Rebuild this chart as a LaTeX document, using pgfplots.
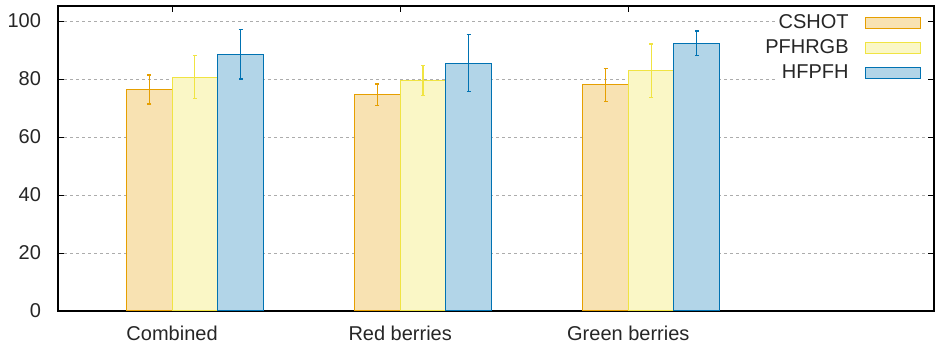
\documentclass[border=0pt]{standalone}
\usepackage{fontspec}
\setmainfont{Liberation Sans}
\usepackage{pgfplots}
\pgfplotsset{compat=1.18}
\definecolor{cA}{HTML}{E69F00}
\definecolor{cB}{HTML}{F0E442}
\definecolor{cC}{HTML}{0072B2}
\begin{document}
\begin{tikzpicture}
\useasboundingbox (-29pt,-18pt) rectangle (439pt,155.5pt);
\begin{axis}[
 scale only axis, width=438pt, height=152.5pt,
 xmin=-2.5, xmax=16.7, ymin=0, ymax=105.2,
 ybar, bar width=1, bar shift=0pt,
 xtick={0,5,10}, xticklabels={Combined,Red berries,Green berries},
 ytick={0,20,...,100},
 tick align=inside, major tick length=3pt,
 tick style={black, line width=0.5pt},
 ymajorgrids,
 grid style={gray!65, line width=0.4pt, dash pattern=on 1.5pt off 1.5pt},
 axis line style={line width=0.6pt},
 /pgf/number format/assume math mode=true,
 tick label style={font=\fontsize{10}{12}\selectfont, text=black!85},
 yticklabel style={xshift=-5pt},
 xticklabel style={yshift=-4pt},
 legend style={at={(rel axis cs:0.992,0.998)}, anchor=north east, draw=none, fill=none,
   font=\fontsize{10}{12}\selectfont, text=black!85, row sep=0pt,
   /tikz/every odd column/.style={column sep=6pt}},
 legend plot pos=right, legend cell align=right,
 legend image code/.code={\draw[#1] (0pt,-2.75pt) rectangle (27.5pt,2.75pt);},
 error bars/y dir=both, error bars/y explicit,
]
\fill[white] (rel axis cs:0.821,0.741) rectangle (rel axis cs:0.993,0.995);
\addplot[draw=cA, fill=cA!30, line width=0.5pt,
  error bars/error bar style={cA, line width=0.6pt},
  error bars/error mark options={rotate=90, cA, mark size=1pt, line width=0.6pt}]
  coordinates {(-0.5,76.4) +- (0,5.0) (4.5,74.6) +- (0,3.7) (9.5,78.0) +- (0,5.7)};
\addplot[draw=cB, fill=cB!30, line width=0.5pt,
  error bars/error bar style={cB, line width=0.6pt},
  error bars/error mark options={rotate=90, cB, mark size=1pt, line width=0.6pt}]
  coordinates {(0.5,80.7) +- (0,7.3) (5.5,79.5) +- (0,5.1) (10.5,82.9) +- (0,9.2)};
\addplot[draw=cC, fill=cC!30, line width=0.5pt,
  error bars/error bar style={cC, line width=0.6pt},
  error bars/error mark options={rotate=90, cC, mark size=1pt, line width=0.6pt}]
  coordinates {(1.5,88.5) +- (0,8.5) (6.5,85.5) +- (0,9.8) (11.5,92.4) +- (0,4.2)};
\legend{CSHOT,PFHRGB,HFPFH}
\end{axis}
\end{tikzpicture}
\end{document}
